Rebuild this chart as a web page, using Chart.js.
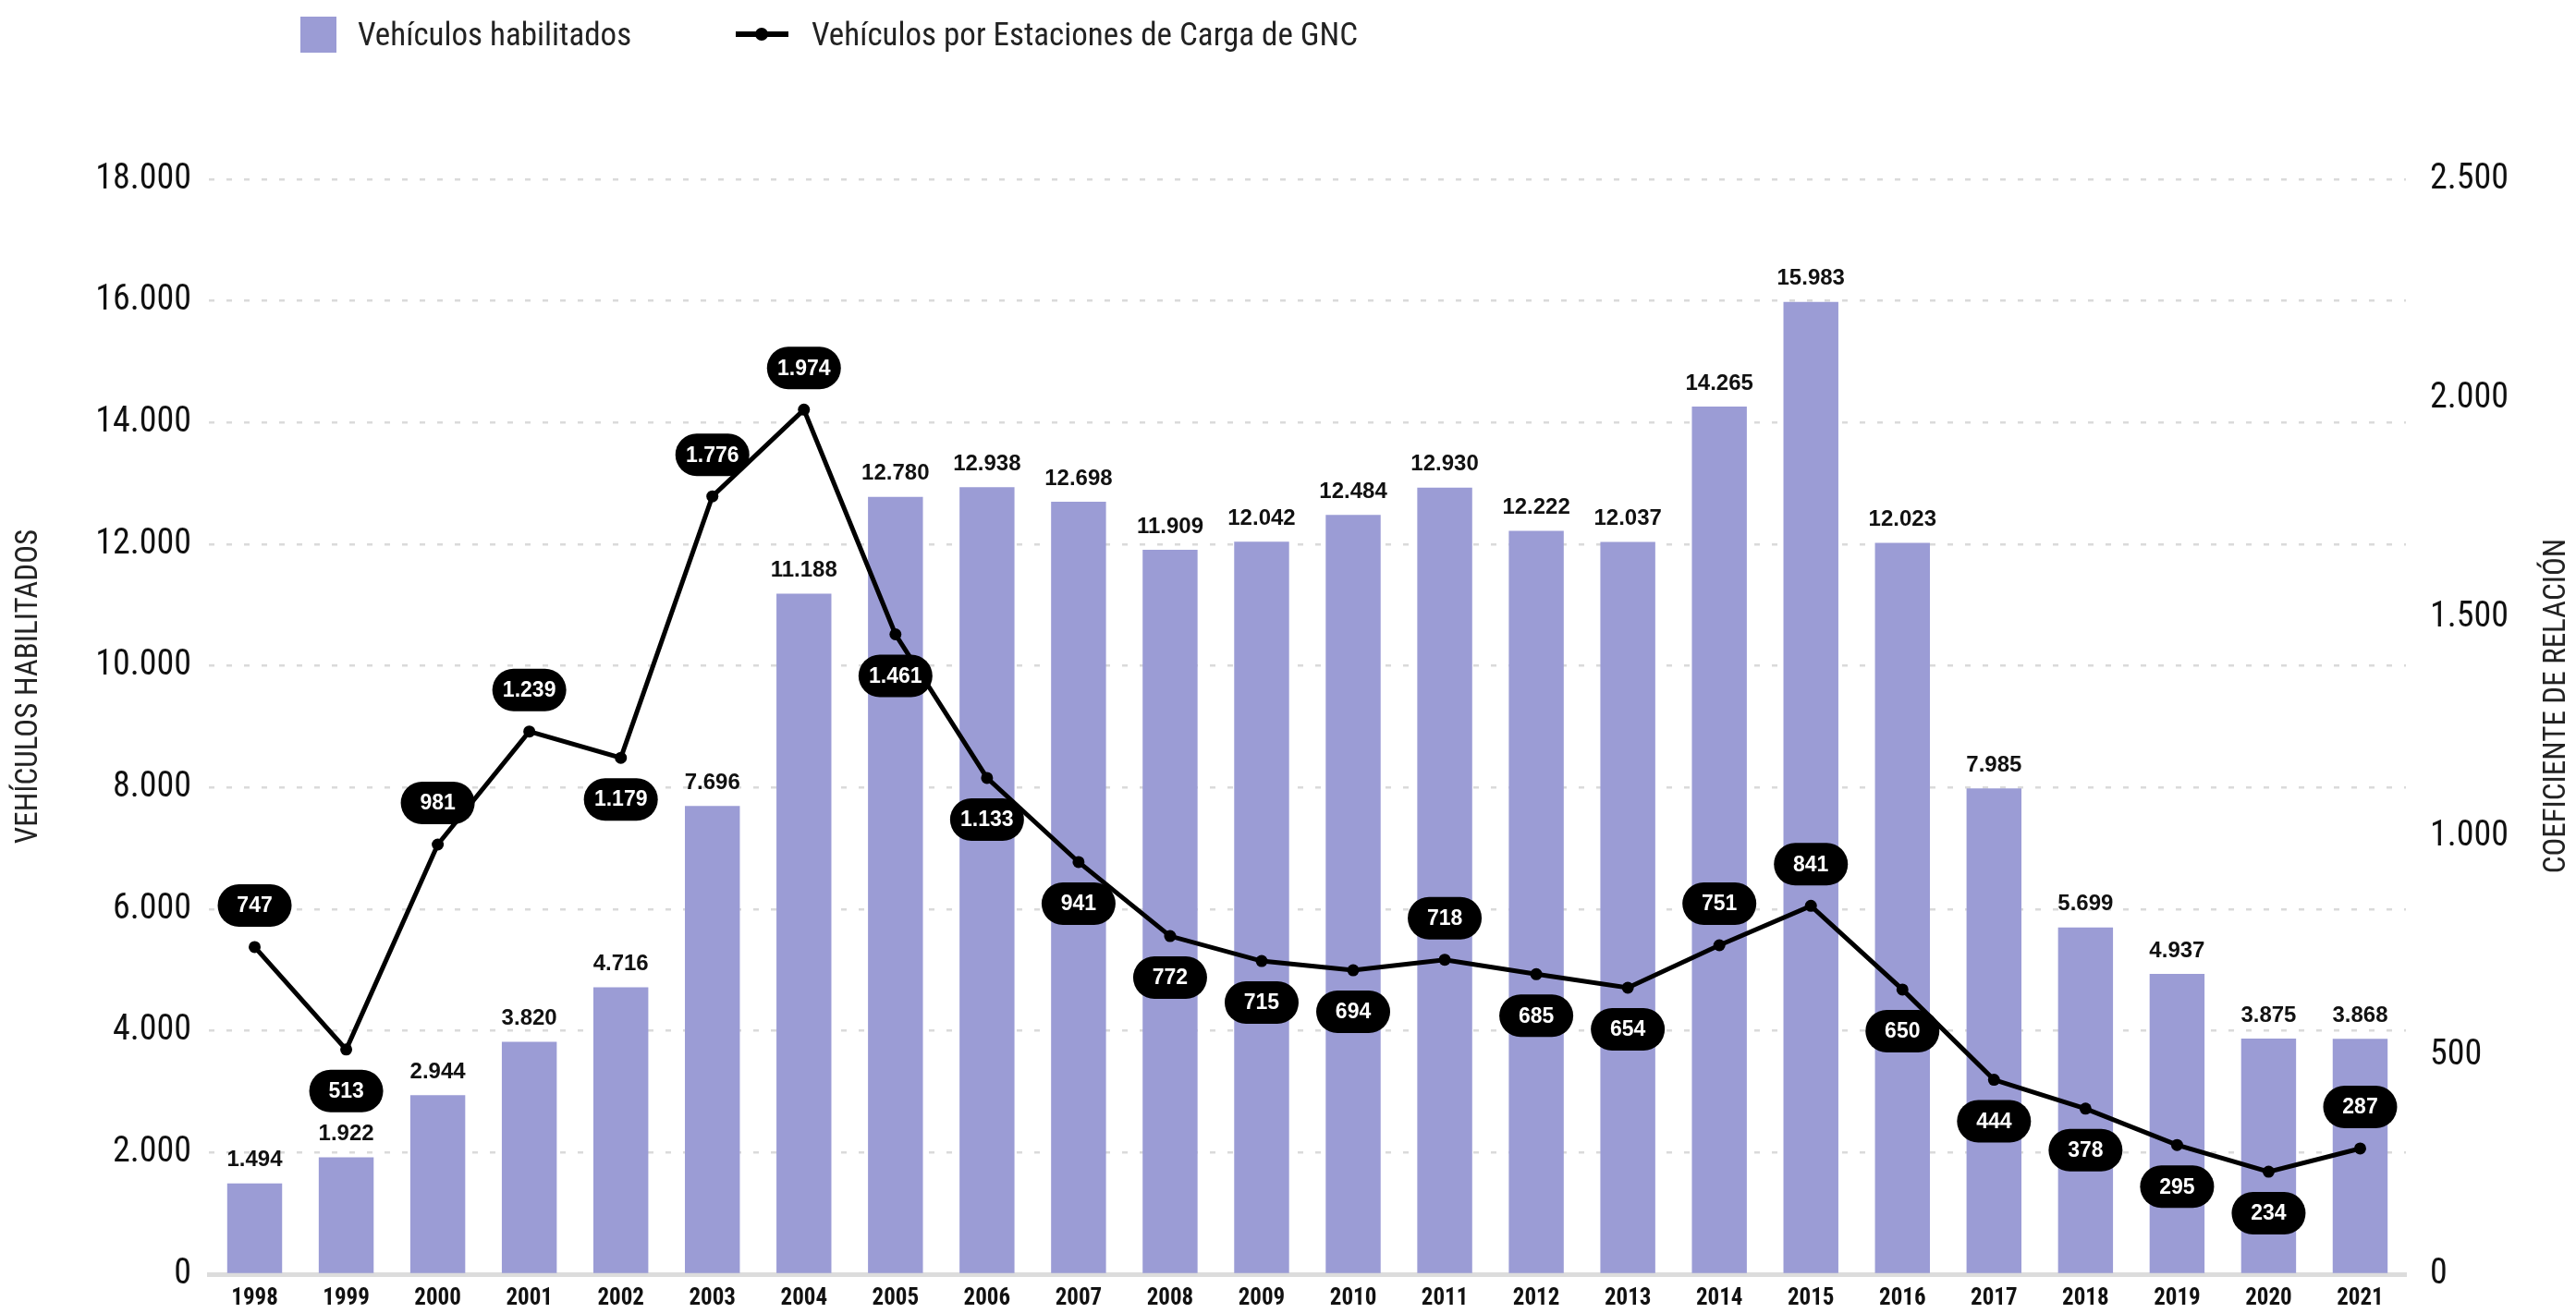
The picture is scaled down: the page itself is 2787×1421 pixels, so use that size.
<!DOCTYPE html>
<html>
<head>
<meta charset="utf-8">
<script src="https://cdn.jsdelivr.net/npm/chart.js@4.4.0/dist/chart.umd.min.js"></script>
<style>
  html, body { margin: 0; padding: 0; background: #fff; overflow: hidden; }
  #wrap { position: relative; width: 2787px; height: 1421px; }
  #myChart { display: block; }
  .leg { position: absolute; top: 17px; height: 40px; display: flex; align-items: center;
         font-family: 'Roboto Condensed', Roboto, sans-serif; font-stretch: condensed;
         font-size: 35px; color: #222; white-space: nowrap; }
  .sq { width: 39px; height: 39px; background: #9b9cd5; margin-right: 23px; }
  .ln { position: relative; width: 57px; height: 40px; margin-right: 25px; }
  .ln::before { content: ''; position: absolute; left: 0; right: 0; top: 17px; height: 6px; background: #000; }
  .ln::after { content: ''; position: absolute; left: 21px; top: 13px; width: 14px; height: 14px; border-radius: 50%; background: #000; }
</style>
</head>
<body>
<div id="wrap">
  <canvas id="myChart" width="2787" height="1421"></canvas>
  <div class="leg" style="left:325px"><div class="sq"></div>Vehículos habilitados</div>
  <div class="leg" style="left:796px"><div class="ln"></div>Vehículos por Estaciones de Carga de GNC</div>
</div>
<script>
// datos del gráfico
const years = ['1998', '1999', '2000', '2001', '2002', '2003', '2004', '2005', '2006', '2007', '2008', '2009',
               '2010', '2011', '2012', '2013', '2014', '2015', '2016', '2017', '2018', '2019', '2020', '2021'];
const vehiculos = [1494, 1922, 2944, 3820, 4716, 7696, 11188, 12780, 12938, 12698, 11909, 12042,
                   12484, 12930, 12222, 12037, 14265, 15983, 12023, 7985, 5699, 4937, 3875, 3868];
const coeficiente = [747, 513, 981, 1239, 1179, 1776, 1974, 1461, 1133, 941, 772, 715,
                     694, 718, 685, 654, 751, 841, 650, 444, 378, 295, 234, 287];
const leftTicks = [0, 2000, 4000, 6000, 8000, 10000, 12000, 14000, 16000, 18000];
const rightTicks = [0, 500, 1000, 1500, 2000, 2500];

// etiquetas de la línea que van arriba del punto (el resto abajo)
const pillAbove = [0, 2, 3, 5, 6, 13, 16, 17, 23];

const COND = "'Roboto Condensed', Roboto, sans-serif";
const ARIAL = "'Liberation Sans', Arial, sans-serif";

function fmt(v) {
    return String(v).replace(/\B(?=(\d{3})+(?!\d))/g, '.');
}

// títulos de ejes y etiquetas de valores
const labelsPlugin = {
    id: 'labels',
    afterDatasetsDraw(chart) {
        const ctx = chart.ctx;
        ctx.save();
        ctx.textAlign = 'center';
        ctx.textBaseline = 'middle';

        // valores arriba de las barras
        ctx.font = 'bold 24px ' + ARIAL;
        ctx.fillStyle = '#111';
        chart.getDatasetMeta(0).data.forEach((bar, i) => {
            ctx.fillText(fmt(vehiculos[i]), bar.x, bar.y - 25);
        });

        // globos negros de la línea
        ctx.font = 'bold 23px ' + ARIAL;
        chart.getDatasetMeta(1).data.forEach((pt, i) => {
            const y = pt.y + (pillAbove.includes(i) ? -45 : 45);
            ctx.fillStyle = '#000';
            ctx.beginPath();
            ctx.roundRect(pt.x - 40, y - 23, 80, 46, 23);
            ctx.fill();
            ctx.fillStyle = '#fff';
            ctx.fillText(fmt(coeficiente[i]), pt.x, y + 1);
        });
        ctx.restore();

        // títulos de ejes
        ctx.save();
        ctx.font = '400 condensed 33px ' + COND;
        ctx.fillStyle = '#222';
        ctx.textAlign = 'center';
        ctx.textBaseline = 'middle';
        ctx.translate(32, 743);
        ctx.rotate(-Math.PI / 2);
        ctx.fillText('VEHÍCULOS HABILITADOS', 0, 0);
        ctx.restore();

        ctx.save();
        ctx.font = '400 condensed 33px ' + COND;
        ctx.fillStyle = '#222';
        ctx.textAlign = 'center';
        ctx.textBaseline = 'middle';
        ctx.translate(2767, 764);
        ctx.rotate(-Math.PI / 2);
        ctx.fillText('COEFICIENTE DE RELACIÓN', 0, 0);
        ctx.restore();
    }
};

const ctx = document.getElementById('myChart').getContext('2d');
const myChart = new Chart(ctx, {
    type: 'bar',
    data: {
        labels: years,
        datasets: [{
            type: 'bar',
            label: 'Vehículos habilitados',
            data: vehiculos,
            backgroundColor: '#9b9cd5',
            barPercentage: 0.6,
            categoryPercentage: 1,
            yAxisID: 'y',
            order: 2
        }, {
            type: 'line',
            label: 'Vehículos por Estaciones de Carga de GNC',
            data: coeficiente,
            borderColor: '#000',
            borderWidth: 5,
            pointRadius: 6.5,
            pointBackgroundColor: '#000',
            pointBorderWidth: 0,
            tension: 0,
            yAxisID: 'y1',
            order: 1
        }]
    },
    options: {
        responsive: false,
        animation: false,
        devicePixelRatio: 1,
        layout: { padding: { top: 194, left: 0, right: 0, bottom: 0 } },
        plugins: { legend: { display: false }, tooltip: { enabled: false } },
        scales: {
            x: {
                offset: true,
                grid: { display: false, drawTicks: false },
                border: { display: true, color: '#dcdcdc', width: 5 },
                ticks: { color: '#111', padding: 12, font: { family: COND, size: 25, weight: 'bold condensed' } },
                afterFit: s => { s.height = 42; }
            },
            y: {
                position: 'left',
                min: 0, max: 18000,
                afterBuildTicks: s => { s.ticks = leftTicks.map(v => ({ value: v })); },
                grid: { color: '#dadada', lineWidth: 2.5, drawTicks: false },
                border: { display: false, dash: [6, 13] },
                ticks: { color: '#111', padding: 19, font: { family: COND, size: 38, weight: '400 condensed' }, callback: v => fmt(v) },
                afterFit: s => { s.width = 226; }
            },
            y1: {
                position: 'right',
                min: 0, max: 2500,
                afterBuildTicks: s => { s.ticks = rightTicks.map(v => ({ value: v })); },
                grid: { display: false },
                border: { display: false },
                ticks: { color: '#111', padding: 18, font: { family: COND, size: 38, weight: '400 condensed' }, callback: v => fmt(v) },
                afterFit: s => { s.width = 184; }
            }
        }
    },
    plugins: [labelsPlugin]
});
</script>
</body>
</html>
